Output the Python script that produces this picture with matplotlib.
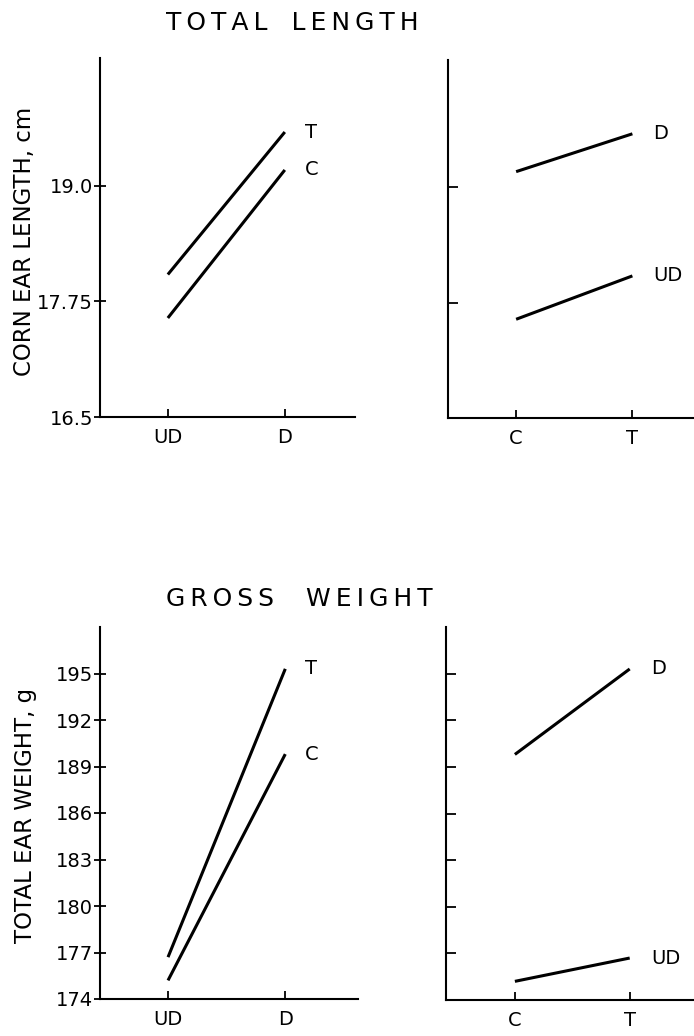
import matplotlib
matplotlib.use("Agg")
import matplotlib.pyplot as plt

plt.rcParams['font.family'] = ['DejaVu Sans']

# means
conditions = ["UD", "D"]
treatments = ["C", "T"]
length_C = [17.57, 19.17]   # UD, D
length_T = [18.04, 19.58]
weight_C = [175.2, 189.8]
weight_T = [176.7, 195.3]

length_ticks = [16.5, 17.75, 19.0]
length_ticklabels = ["16.5", "17.75", "19.0"]
weight_ticks = [174, 177, 180, 183, 186, 189, 192, 195]
weight_ticklabels = [str(t) for t in weight_ticks]

W, H = 694, 1036
fig = plt.figure(figsize=(W / 100, H / 100), dpi=100)
fig.patch.set_facecolor("white")


def px_axes(left, right, top, bottom):
    return fig.add_axes([left / W, 1 - bottom / H, (right - left) / W, (bottom - top) / H])


def spaced(s):
    # old lettering is widely tracked
    return "\u2009".join(s)


def style(ax, ytick_dir):
    for side in ["top", "right"]:
        ax.spines[side].set_visible(False)
    for side in ["left", "bottom"]:
        ax.spines[side].set_linewidth(1.5)
    ax.tick_params(axis="x", direction="in", length=6, width=1.3, pad=8, labelsize=14)
    if ytick_dir == "inout":
        ax.tick_params(axis="y", direction="inout", length=8, width=1.3, pad=1, labelsize=14)
    else:
        ax.tick_params(axis="y", direction="in", length=7, width=1.3, labelleft=False)


lw = 2.2
fs = 14

# ---- TOTAL LENGTH ----
ax1 = px_axes(100, 355, 58, 417)
x = range(len(conditions))
ax1.plot(x, length_T, color="black", lw=lw, solid_capstyle="butt")
ax1.plot(x, length_C, color="black", lw=lw, solid_capstyle="butt")
ax1.text(1.17, length_T[1], "T", fontsize=fs, va="center", ha="left")
ax1.text(1.17, length_C[1], "C", fontsize=fs, va="center", ha="left")
ax1.set_xlim(-0.58, 1.6)
ax1.set_ylim(16.5, 20.38)
ax1.set_xticks(list(x))
ax1.set_xticklabels(conditions)
ax1.set_yticks(length_ticks)
ax1.set_yticklabels(length_ticklabels)
style(ax1, "inout")

ax2 = px_axes(448, 694, 60, 418)
x = range(len(treatments))
ud = [length_C[0], length_T[0]]
d = [length_C[1], length_T[1]]
ax2.plot(x, d, color="black", lw=lw, solid_capstyle="butt")
ax2.plot(x, ud, color="black", lw=lw, solid_capstyle="butt")
ax2.text(1.18, d[1], "D", fontsize=fs, va="center", ha="left")
ax2.text(1.18, ud[1], "UD", fontsize=fs, va="center", ha="left")
ax2.set_xlim(-0.586, 1.53)
ax2.set_ylim(16.5, 20.38)
ax2.set_xticks(list(x))
ax2.set_xticklabels(treatments)
ax2.set_yticks(length_ticks)
style(ax2, "in")

# ---- GROSS WEIGHT ----
ax3 = px_axes(100, 358, 627, 999)
x = range(len(conditions))
ax3.plot(x, weight_T, color="black", lw=lw, solid_capstyle="butt")
ax3.plot(x, weight_C, color="black", lw=lw, solid_capstyle="butt")
ax3.text(1.17, weight_T[1], "T", fontsize=fs, va="center", ha="left")
ax3.text(1.17, weight_C[1], "C", fontsize=fs, va="center", ha="left")
ax3.set_xlim(-0.58, 1.62)
ax3.set_ylim(174, 198)
ax3.set_xticks(list(x))
ax3.set_xticklabels(conditions)
ax3.set_yticks(weight_ticks)
ax3.set_yticklabels(weight_ticklabels)
style(ax3, "inout")

ax4 = px_axes(446, 694, 627, 1000)
x = range(len(treatments))
ud = [weight_C[0], weight_T[0]]
d = [weight_C[1], weight_T[1]]
ax4.plot(x, d, color="black", lw=lw, solid_capstyle="butt")
ax4.plot(x, ud, color="black", lw=lw, solid_capstyle="butt")
ax4.text(1.19, d[1], "D", fontsize=fs, va="center", ha="left")
ax4.text(1.19, ud[1], "UD", fontsize=fs, va="center", ha="left")
ax4.set_xlim(-0.6, 1.56)
ax4.set_ylim(174, 198)
ax4.set_xticks(list(x))
ax4.set_xticklabels(treatments)
ax4.set_yticks(weight_ticks)
style(ax4, "in")

# titles and y labels
fig.text(292 / W, 1 - 23 / H, spaced("TOTAL") + "   " + spaced("LENGTH"),
         fontsize=18, ha="center", va="center")
fig.text(299 / W, 1 - 599 / H, spaced("GROSS") + "    " + spaced("WEIGHT"),
         fontsize=18, ha="center", va="center")
fig.text(25 / W, 1 - 241 / H, "CORN EAR LENGTH, cm", fontsize=16.5,
         rotation=90, ha="center", va="center")
fig.text(26 / W, 1 - 815 / H, "TOTAL EAR WEIGHT, g", fontsize=16.5,
         rotation=90, ha="center", va="center")

fig.savefig("out.png", dpi=100, facecolor="white")
